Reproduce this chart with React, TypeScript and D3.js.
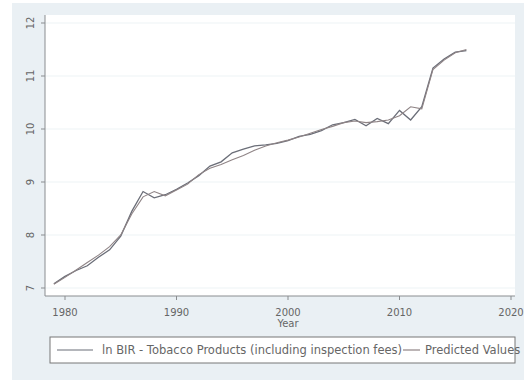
import React from "react";
import * as d3 from "d3";

const years: number[] = d3.range(1979, 2017);
const actual: number[] = [
  7.08, 7.22, 7.33, 7.42, 7.58, 7.72, 7.98, 8.45, 8.82, 8.7, 8.76, 8.86, 8.98,
  9.12, 9.3, 9.38, 9.55, 9.62, 9.68, 9.7, 9.73, 9.78, 9.86, 9.9, 9.97, 10.08,
  10.12, 10.18, 10.06, 10.2, 10.1, 10.35, 10.17, 10.42, 11.15, 11.32, 11.45,
  11.48,
];
const predicted: number[] = [
  7.07, 7.2, 7.34, 7.48, 7.62, 7.78, 8.0, 8.4, 8.72, 8.82, 8.74, 8.85, 8.96,
  9.14, 9.26, 9.33, 9.42, 9.5, 9.6, 9.68, 9.74, 9.79, 9.85, 9.92, 9.99, 10.05,
  10.12, 10.15, 10.12, 10.14, 10.17, 10.25, 10.42, 10.38, 11.12, 11.3, 11.44,
  11.5,
];
const xTicks: number[] = [1980, 1990, 2000, 2010, 2020];
const yTicks: number[] = [7, 8, 9, 10, 11, 12];
const legendLabels: string[] = [
  "ln BIR - Tobacco Products (including inspection fees)",
  "Predicted Values",
];

export default function App() {
  const W = 524,
    H = 380;
  const plot = { x0: 45, x1: 515, y0: 15, y1: 296 };
  const x = d3.scaleLinear().domain([1980, 2020]).range([65, 511]);
  const y = d3.scaleLinear().domain([7, 12]).range([288, 23]);
  const line = (vals: number[]) =>
    d3
      .line<number>()
      .x((_, i) => x(years[i]))
      .y((d) => y(d))(vals) || "";
  const font = "DejaVu Sans, Verdana, sans-serif";
  const textCol = "#666";
  return (
    <svg
      width={W}
      height={H}
      style={{ position: "absolute", left: 0, top: 0 }}
      fontFamily={font}
    >
      <rect x={0} y={0} width={W} height={H} fill="#fff" />
      <rect x={12} y={3} width={W - 12} height={H - 3} fill="#eaf0f4" />
      <rect
        x={plot.x0}
        y={plot.y0}
        width={plot.x1 - plot.x0}
        height={plot.y1 - plot.y0}
        fill="#fff"
      />
      {yTicks.map((t) => (
        <line
          key={"g" + t}
          x1={plot.x0}
          x2={plot.x1}
          y1={y(t)}
          y2={y(t)}
          stroke="#eef3f6"
          strokeWidth={1.2}
        />
      ))}
      <line x1={plot.x0} x2={plot.x0} y1={plot.y0} y2={plot.y1} stroke="#8a8d90" strokeWidth={1} />
      <line x1={plot.x0} x2={plot.x1} y1={plot.y1} y2={plot.y1} stroke="#8a8d90" strokeWidth={1} />
      {yTicks.map((t) => (
        <g key={"y" + t}>
          <line x1={plot.x0 - 4} x2={plot.x0} y1={y(t)} y2={y(t)} stroke="#8a8d90" />
          <text
            transform={`translate(34,${y(t)}) rotate(-90)`}
            textAnchor="middle"
            fontSize={10}
            fill={textCol}
          >
            {t}
          </text>
        </g>
      ))}
      {xTicks.map((t) => (
        <g key={"x" + t}>
          <line x1={x(t)} x2={x(t)} y1={plot.y1} y2={plot.y1 + 4} stroke="#8a8d90" />
          <text x={x(t)} y={316} textAnchor="middle" fontSize={10} fill={textCol}>
            {t}
          </text>
        </g>
      ))}
      <text x={x(2000)} y={327} textAnchor="middle" fontSize={10} fill={textCol}>
        Year
      </text>
      <path d={line(actual)} fill="none" stroke="#6b6e78" strokeWidth={1.3} />
      <path d={line(predicted)} fill="none" stroke="#8f8486" strokeWidth={1.1} />
      <rect x={50} y={337} width={465} height={26} fill="#fff" stroke="#777" strokeWidth={1} />
      <line x1={57} x2={93} y1={350} y2={350} stroke="#6b6e78" strokeWidth={1.2} />
      <text x={102} y={354} fontSize={11.5} fill={textCol}>
        {legendLabels[0]}
      </text>
      <line x1={403} x2={420} y1={350} y2={350} stroke="#8f8486" strokeWidth={1.2} />
      <text x={425} y={354} fontSize={11.5} fill={textCol}>
        {legendLabels[1]}
      </text>
    </svg>
  );
}
